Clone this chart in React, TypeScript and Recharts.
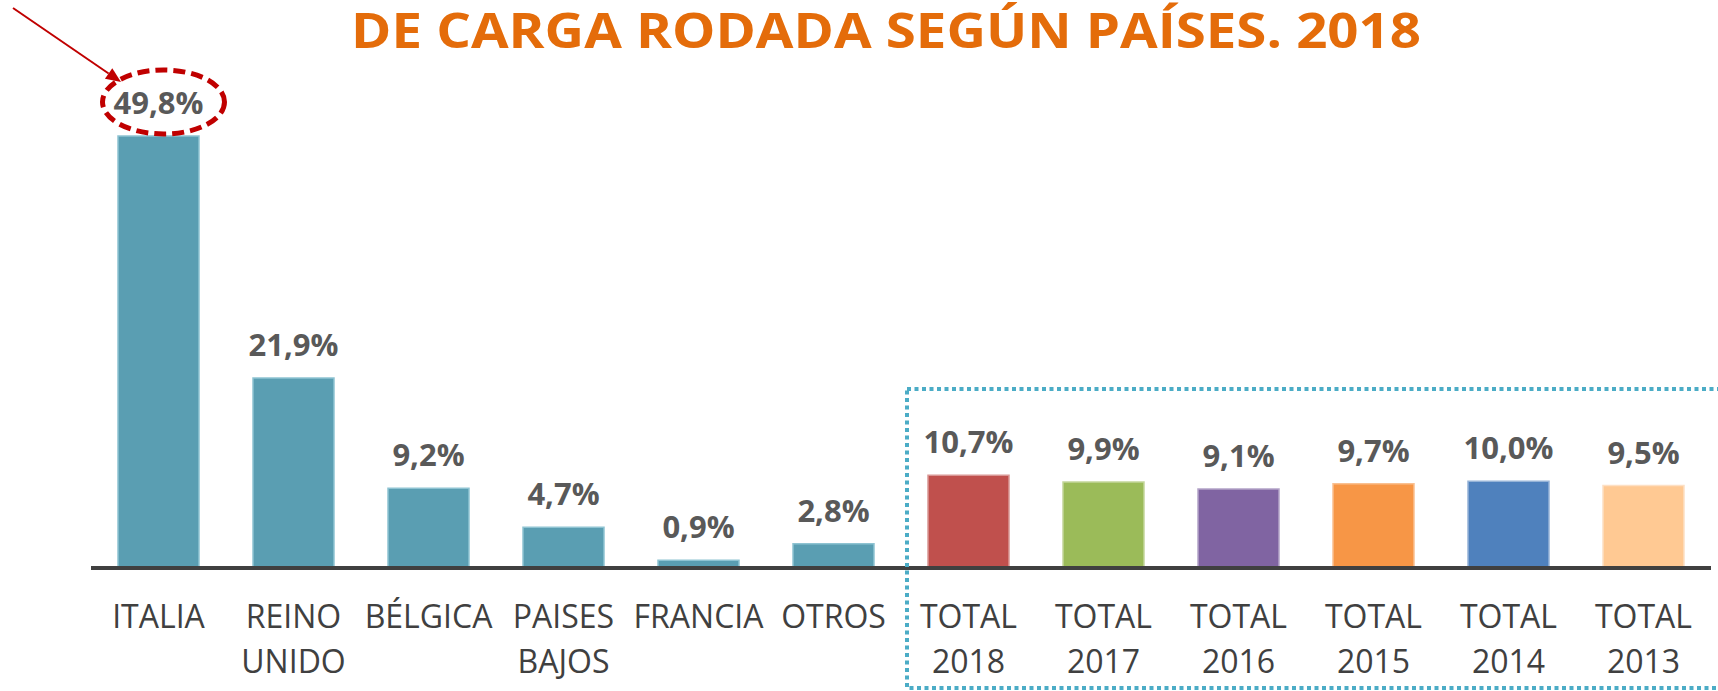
import React from "react";
import { BarChart, Bar, XAxis, YAxis, Cell, LabelList } from "recharts";

// ---- data ----
const categories: string[] = [
  "ITALIA",
  "REINO\nUNIDO",
  "BÉLGICA",
  "PAISES\nBAJOS",
  "FRANCIA",
  "OTROS",
  "TOTAL\n2018",
  "TOTAL\n2017",
  "TOTAL\n2016",
  "TOTAL\n2015",
  "TOTAL\n2014",
  "TOTAL\n2013",
];
const values: number[] = [49.8, 21.9, 9.2, 4.7, 0.9, 2.8, 10.7, 9.9, 9.1, 9.7, 10.0, 9.5];
const titleText = "DE CARGA RODADA SEGÚN PAÍSES. 2018";

// ---- styles ----
const fillColors = [
  "#5A9EB2", "#5A9EB2", "#5A9EB2", "#5A9EB2", "#5A9EB2", "#5A9EB2",
  "#C0504D", "#9BBB59", "#8064A2", "#F79646", "#4F81BD", "#FFC993",
];
const edgeColors = [
  "#8EC3D2", "#8EC3D2", "#8EC3D2", "#8EC3D2", "#8EC3D2", "#8EC3D2",
  "#D99694", "#C3D69B", "#B3A2C7", "#FAC090", "#95B3D7", "#FDE0C4",
];

const data = categories.map((c, i) => ({ category: c, value: values[i] }));

const fmt = (v: number) => v.toFixed(1).replace(".", ",") + "%";

const CategoryTick = (props: any) => {
  const { x, y, payload } = props;
  const lines = String(payload.value).split("\n");
  return (
    <text
      x={x}
      y={y}
      textAnchor="middle"
      fill="#404040"
      fontFamily="'Open Sans', sans-serif"
      fontSize={32}
    >
      {lines.map((l, i) => (
        <tspan key={i} x={x} dy={i === 0 ? 60 : 45}>
          {l}
        </tspan>
      ))}
    </text>
  );
};

const ValueLabel = (props: any) => {
  const { x, y, width, value, index } = props;
  const cx = Number(x) + Number(width) / 2;
  const top = Number(y);
  const txt = (
    <text
      x={cx}
      y={top - 22}
      textAnchor="middle"
      fill="#595959"
      fontFamily="'Open Sans', sans-serif"
      fontWeight={700}
      fontSize={31}
    >
      {fmt(Number(value))}
    </text>
  );
  if (index !== 0) return txt;
  // highlight annotation around the largest value
  const x1 = cx - 145.5, y1 = top - 128;
  const x2 = cx - 37.5, y2 = top - 54;
  const dx = x2 - x1, dy = y2 - y1;
  const len = Math.sqrt(dx * dx + dy * dy);
  const ux = dx / len, uy = dy / len;
  const hl = 15, hw = 6.5;
  const bx = x2 - ux * hl, by = y2 - uy * hl;
  const p1 = `${x2},${y2}`;
  const p2 = `${bx - uy * hw},${by + ux * hw}`;
  const p3 = `${bx + uy * hw},${by - ux * hw}`;
  return (
    <g>
      {txt}
      <ellipse
        cx={cx + 5}
        cy={top - 34}
        rx={61}
        ry={32}
        fill="none"
        stroke="#C00000"
        strokeWidth={5}
        strokeDasharray="12 6"
      />
      <line x1={x1} y1={y1} x2={bx} y2={by} stroke="#C00000" strokeWidth={2} />
      <polygon points={`${p1} ${p2} ${p3}`} fill="#C00000" />
    </g>
  );
};

export default function App() {
  return (
    <div style={{ position: "absolute", left: 0, top: 0, width: 1718, height: 691, background: "#fff" }}>
      <BarChart
        width={1718}
        height={691}
        data={data}
        margin={{ top: 47.5, right: 7, left: 91, bottom: 0 }}
      >
        <XAxis
          dataKey="category"
          height={123}
          interval={0}
          tickLine={false}
          tickSize={0}
          tickMargin={0}
          axisLine={{ stroke: "#404040", strokeWidth: 4 }}
          tick={<CategoryTick />}
        />
        <YAxis hide domain={[0, 60]} />
        <Bar dataKey="value" barSize={81} isAnimationActive={false}>
          {data.map((_, i) => (
            <Cell key={i} fill={fillColors[i]} stroke={edgeColors[i]} strokeWidth={1.5} />
          ))}
          <LabelList dataKey="value" content={<ValueLabel />} />
        </Bar>
      </BarChart>
      <svg
        width={1718}
        height={691}
        style={{ position: "absolute", left: 0, top: 0, pointerEvents: "none" }}
      >
        <text
          x={886}
          y={48}
          textAnchor="middle"
          fill="#E46C0A"
          fontFamily="'Open Sans', sans-serif"
          fontWeight={700}
          fontSize={49}
          textLength={1070}
          lengthAdjust="spacingAndGlyphs"
        >
          {titleText}
        </text>
        <rect
          x={907}
          y={389}
          width={900}
          height={299}
          fill="none"
          stroke="#4BACC6"
          strokeWidth={4}
          strokeDasharray="4 3.5"
        />
      </svg>
    </div>
  );
}
